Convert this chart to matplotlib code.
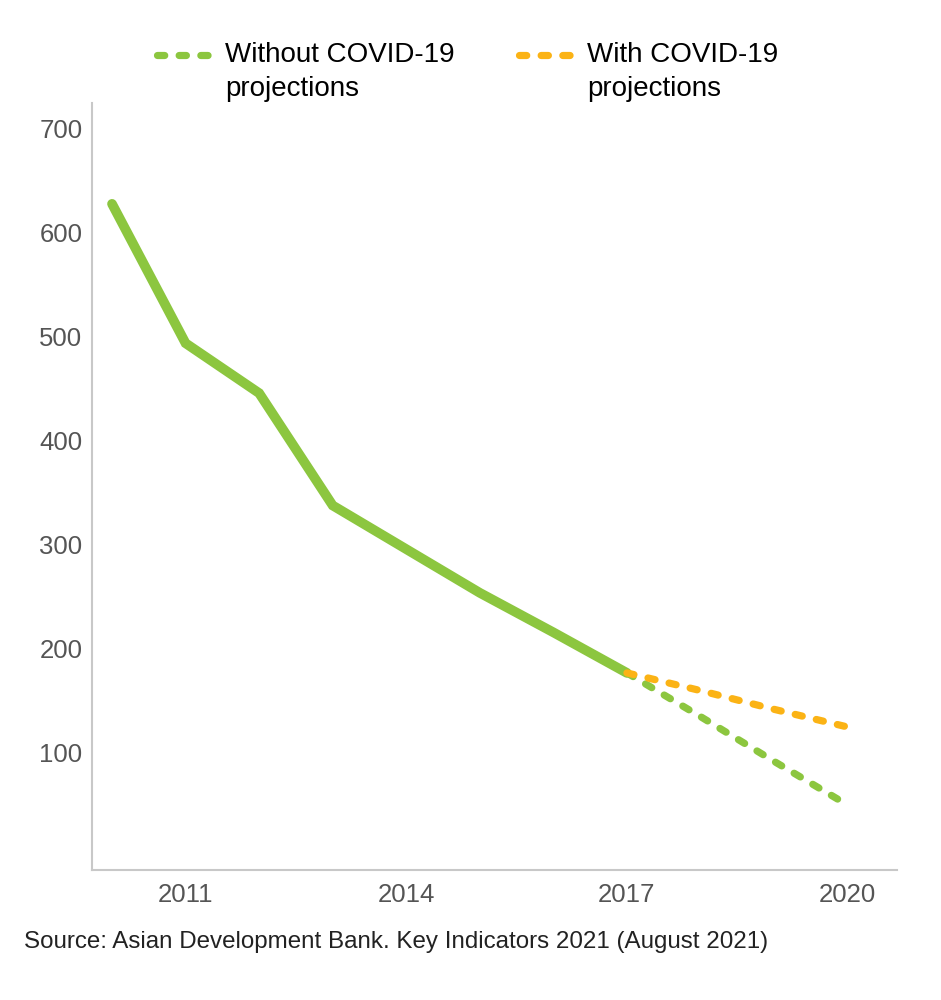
import matplotlib
matplotlib.use("Agg")
import matplotlib.pyplot as plt
from matplotlib.lines import Line2D

plt.rcParams['font.family'] = ['Liberation Sans', 'DejaVu Sans']

years_hist = [2010, 2011, 2012, 2013, 2014, 2015, 2016, 2017]
values_hist = [628, 494, 446, 338, 296, 254, 216, 177]
years_proj = [2017, 2018, 2019, 2020]
without_covid = [177, 135, 92, 50]
with_covid = [177, 160, 142, 125]
xticks = [2011, 2014, 2017, 2020]
yticks = [100, 200, 300, 400, 500, 600, 700]
labels = ["Without COVID-19\nprojections", "With COVID-19\nprojections"]
source = "Source: Asian Development Bank. Key Indicators 2021 (August 2021)"

GREEN = "#8cc63f"
ORANGE = "#fbb315"

fig = plt.figure(figsize=(9.41, 10), dpi=100)
ax = fig.add_axes([0.0978, 0.13, 0.855, 0.767])

ax.plot(years_hist, values_hist, color=GREEN, lw=7, solid_capstyle='round', solid_joinstyle='miter')
ax.plot(years_proj, without_covid, color=GREEN, lw=5.2, dashes=(1.0, 2.0), dash_capstyle='round')
ax.plot(years_proj, with_covid, color=ORANGE, lw=5.2, dashes=(1.0, 2.0), dash_capstyle='round')

ax.set_xlim(2009.728, 2020.666)
ax.set_ylim(-12.5, 725)
ax.set_xticks(xticks)
ax.set_xticklabels([str(x) for x in xticks])
ax.set_yticks(yticks)
ax.tick_params(axis='both', length=0, labelsize=18.5, labelcolor='#555555')
ax.tick_params(axis='y', pad=7)
ax.tick_params(axis='x', pad=9)
for s in ['top', 'right']:
    ax.spines[s].set_visible(False)
for s in ['left', 'bottom']:
    ax.spines[s].set_color('#c8c8c8')
    ax.spines[s].set_linewidth(1.5)

h1 = Line2D([], [], color=GREEN, lw=5.2, dashes=(1.0, 2.0), dash_capstyle='round')
h2 = Line2D([], [], color=ORANGE, lw=5.2, dashes=(1.0, 2.0), dash_capstyle='round')
leg = fig.legend([h1, h2], labels, ncol=2, loc='upper left', bbox_to_anchor=(0.167, 0.958),
                 frameon=False, fontsize=20, handlelength=1.95, handletextpad=0.5,
                 columnspacing=2.32, borderpad=0, borderaxespad=0)
for t in leg.get_texts():
    t.set_linespacing(1.38)
for h in leg.legend_handles:
    h.set_ydata([y + 12 for y in h.get_ydata()])

fig.text(0.026, 0.058, source, fontsize=17.4, color='#222222', va='center', ha='left')

fig.savefig("out.png", dpi=100)
